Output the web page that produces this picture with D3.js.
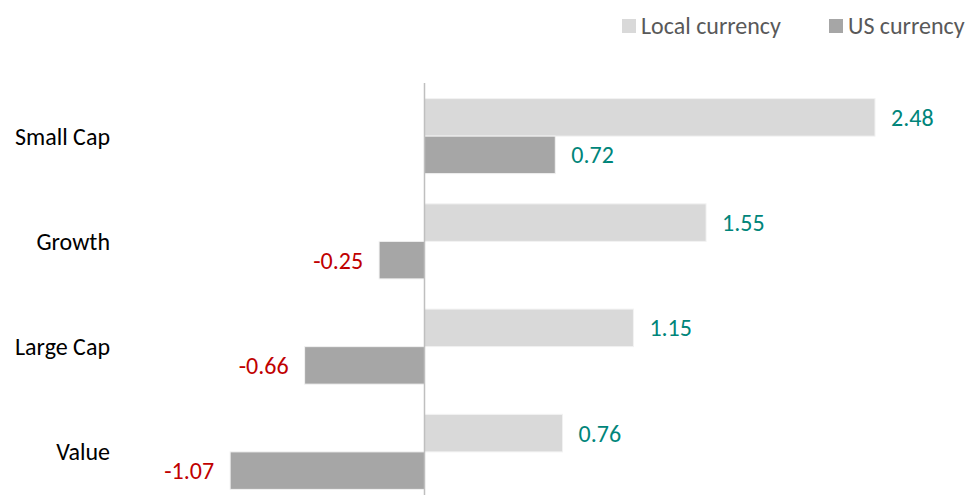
<html>
<head>
<script src="https://d3js.org/d3.v7.min.js"></script>
<style>
  body { margin: 0; background: white; }
  text { font-family: Carlito, "Open Sans", sans-serif; }
</style>
</head>
<body>
<script>
// data
var categories = ["Small Cap", "Growth", "Large Cap", "Value"];
var seriesNames = ["Local currency", "US currency"];
var localValues = [2.48, 1.55, 1.15, 0.76];
var usValues = [0.72, -0.25, -0.66, -1.07];

var colors = ["#d9d9d9", "#a6a6a6"];

var svg = d3.select("body").append("svg")
  .attr("width", 971)
  .attr("height", 495);

var x = d3.scaleLinear().domain([0, 2.48]).range([424.5, 875]);

var y = d3.scaleBand().domain(categories)
  .range([83.5, 504.5])
  .paddingInner(0.287)
  .paddingOuter(0.1435);

var y2 = d3.scaleBand().domain([0, 1]).range([0, y.bandwidth()]);

var rows = [];
categories.forEach(function(c, i) {
  rows.push({cat: c, s: 0, v: localValues[i]});
  rows.push({cat: c, s: 1, v: usValues[i]});
});

// bars
svg.selectAll("rect.bar")
  .data(rows)
  .enter().append("rect")
  .attr("class", "bar")
  .attr("x", function(d){ return x(Math.min(0, d.v)); })
  .attr("y", function(d){ return y(d.cat) + y2(d.s); })
  .attr("width", function(d){ return Math.abs(x(d.v) - x(0)); })
  .attr("height", y2.bandwidth())
  .style("fill", function(d){ return colors[d.s]; })
  .style("stroke", "#f2f2f2")
  .style("stroke-width", 1);

// zero axis
svg.append("line")
  .attr("x1", x(0)).attr("x2", x(0))
  .attr("y1", 83).attr("y2", 495)
  .style("stroke", "#bfbfbf")
  .style("stroke-width", 1.5);

// value labels
svg.selectAll("text.val")
  .data(rows)
  .enter().append("text")
  .attr("class", "val")
  .attr("x", function(d){ return d.v >= 0 ? x(d.v) + 16 : x(d.v) - 16; })
  .attr("y", function(d){ return y(d.cat) + y2(d.s) + y2.bandwidth() / 2; })
  .attr("dy", "0.35em")
  .attr("text-anchor", function(d){ return d.v >= 0 ? "start" : "end"; })
  .style("font-size", "24px")
  .style("fill", function(d){ return d.v >= 0 ? "#00857a" : "#c00000"; })
  .text(function(d){ return d.v.toFixed(2); });

// category labels
svg.selectAll("text.cat")
  .data(categories)
  .enter().append("text")
  .attr("class", "cat")
  .attr("x", 110)
  .attr("y", function(d){ return y(d) + y.bandwidth() / 2; })
  .attr("dy", "0.35em")
  .attr("text-anchor", "end")
  .style("font-size", "24px")
  .style("fill", "#000")
  .text(function(d){ return d; });

// legend
var legendX = [622, 829];
var legend = svg.selectAll("g.legend")
  .data(seriesNames)
  .enter().append("g")
  .attr("class", "legend")
  .attr("transform", function(d, i){ return "translate(" + legendX[i] + ",19)"; });
legend.append("rect")
  .attr("width", 14).attr("height", 14)
  .style("fill", function(d, i){ return colors[i]; });
legend.append("text")
  .attr("x", 19).attr("y", 7)
  .attr("dy", "0.35em")
  .style("font-size", "24px")
  .style("fill", "#595959")
  .text(function(d){ return d; });
</script>
</body>
</html>
